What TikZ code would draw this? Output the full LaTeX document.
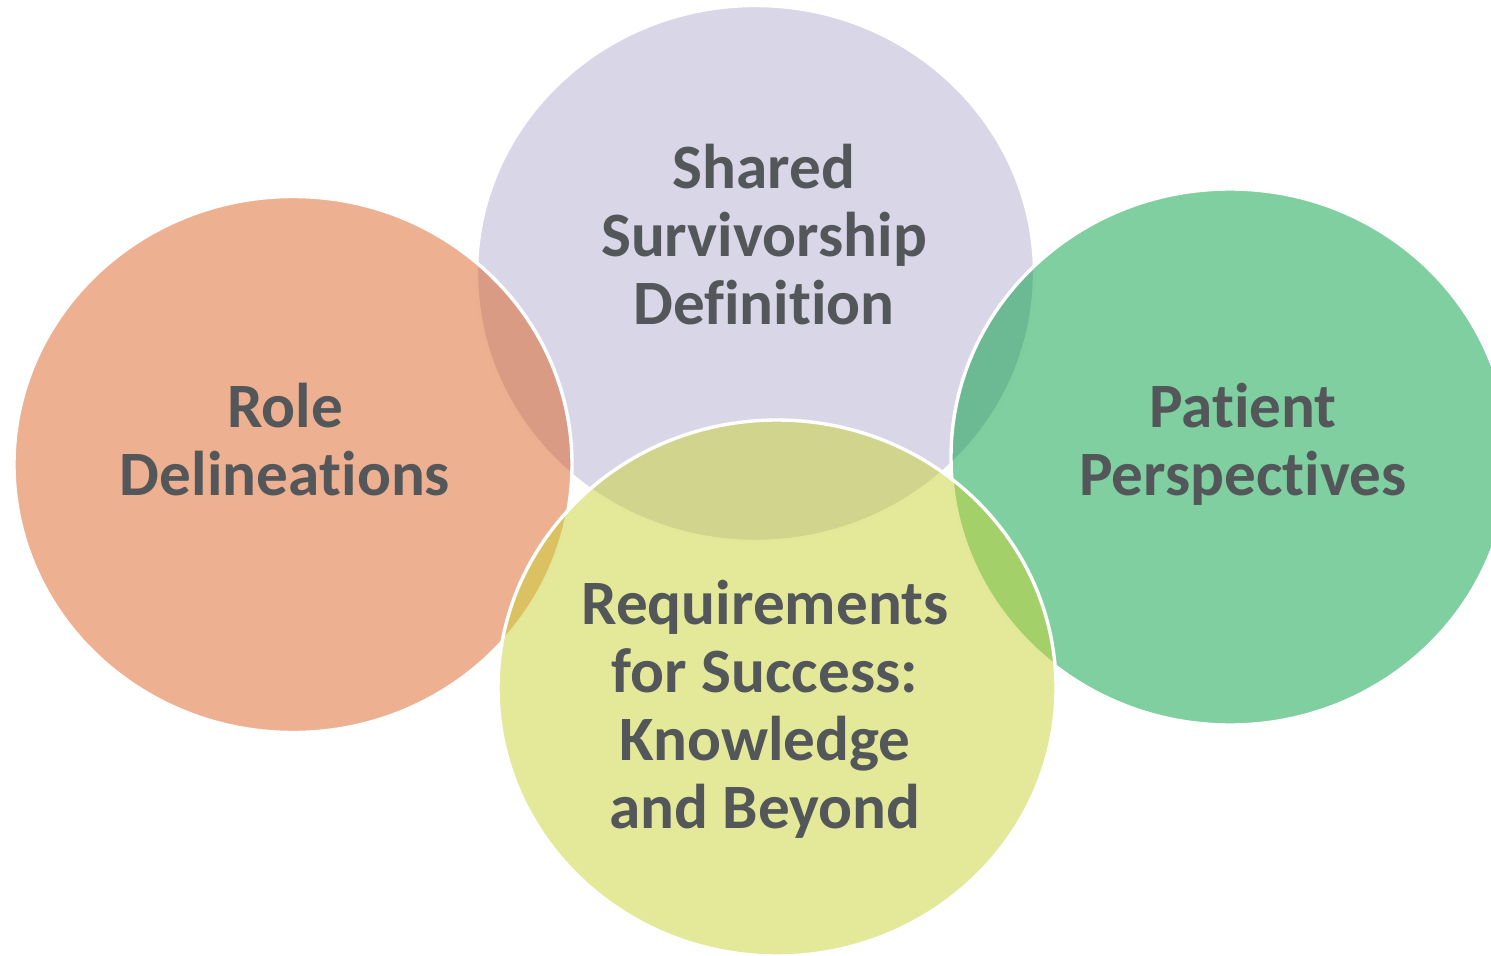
\documentclass[tikz,border=0pt]{standalone}
\usepackage{fontspec}
\setmainfont{Carlito}[RawFeature={-liga;-clig;-calt;-dlig}]
\usetikzlibrary{shapes.geometric}
\definecolor{orangeBase}{RGB}{219,97,35}
\definecolor{lavBase}{RGB}{177,173,207}
\definecolor{greenBase}{RGB}{0,159,65}
\definecolor{yellowBase}{RGB}{201,211,53}
\definecolor{txt}{RGB}{83,87,90}
\newcommand\tisep{\kern0pt }
\tikzset{
  blob/.style={ellipse, draw=white, line width=1.7pt, fill opacity=0.5,
    minimum width=279pt, minimum height=268pt, inner sep=0pt},
  label/.style={align=center, anchor=base, text=txt,
    font=\fontsize{31.6pt}{34pt}\selectfont\bfseries, inner sep=0pt}
}
\begin{document}
\begin{tikzpicture}[x=0.5pt,y=-0.5pt]
\useasboundingbox (0,0) rectangle (1491,956);
\clip (0,0) rectangle (1491,956);
\node[blob, fill=lavBase] (top) at (755.5,273.5) {};
\node[blob, fill=orangeBase] (left) at (293,464.5) {};
\node[blob, fill=greenBase] (right) at (1230,457) {};
\node[blob, fill=yellowBase] (bottom) at (777,688) {};
\node[label] (ttop) at (764,325) {Shared\\Survivorship\\Defini\tisep tion};
\node[label] (tleft) at (285,495) {Role\\Delinea\tisep tions};
\node[label] (tright) at (1243,495) {Pat\tisep ient\\Perspect\tisep ives};
\node[label] (tbottom) at (765,828) {Requirements\\for Success:\\Knowledge\\and Beyond};
\end{tikzpicture}
\end{document}
